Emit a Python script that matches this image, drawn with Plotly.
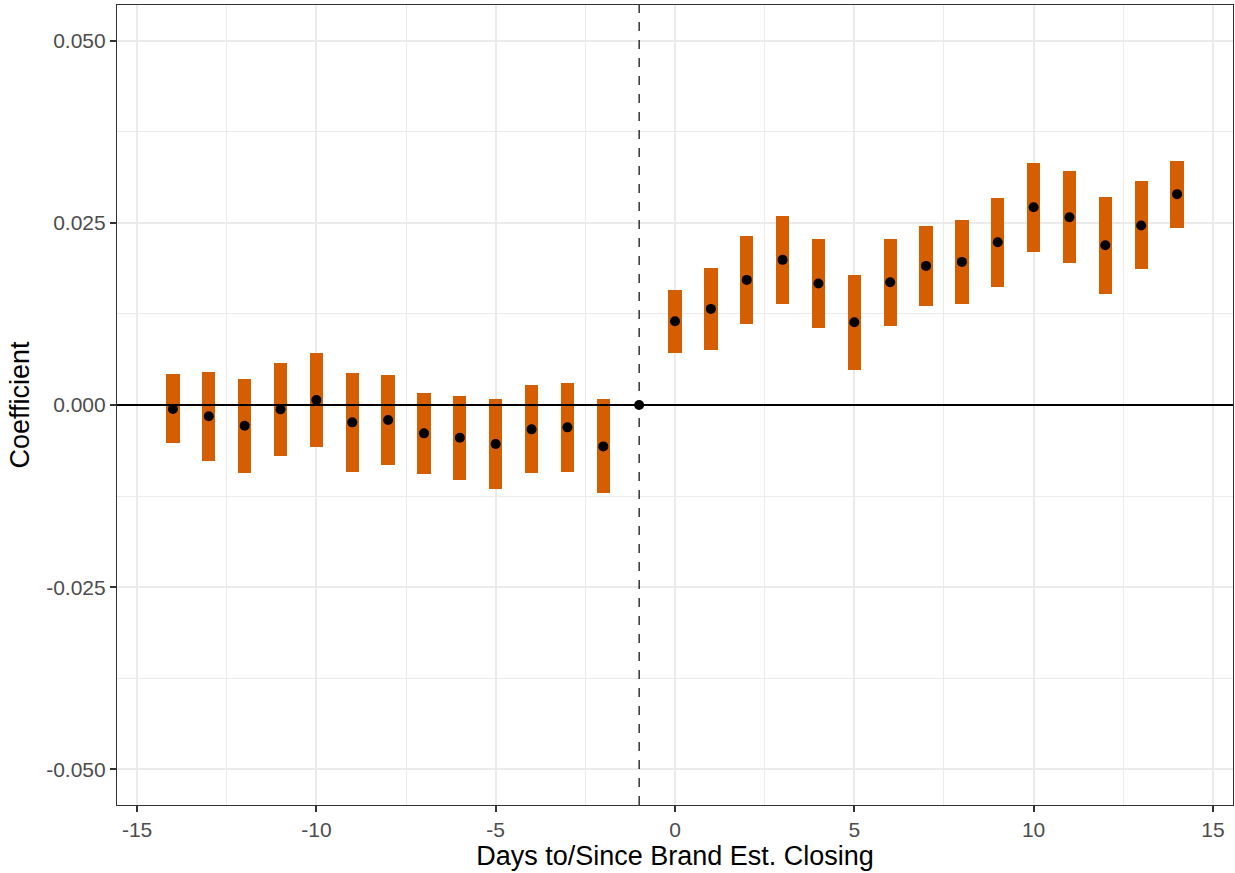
import plotly.graph_objects as go

days = [-14, -13, -12, -11, -10, -9, -8, -7, -6, -5, -4, -3, -2, -1,
        0, 1, 2, 3, 4, 5, 6, 7, 8, 9, 10, 11, 12, 13, 14]
coef = [-0.00055, -0.00155, -0.00284, -0.0006, 0.00069, -0.00238, -0.00206,
        -0.00389, -0.00449, -0.00536, -0.00334, -0.00307, -0.00568, 0.0,
        0.0115, 0.01319, 0.01717, 0.01992, 0.01667, 0.01136, 0.01685, 0.01909,
        0.01964, 0.02234, 0.02715, 0.02578, 0.02193, 0.02463, 0.02894]
ci_low = [-0.00526, -0.00765, -0.0093, -0.0070, -0.00577, -0.00916, -0.0082,
          -0.00948, -0.0103, -0.0115, -0.0094, -0.0092, -0.01213, 0.0,
          0.0071, 0.0075, 0.01117, 0.01392, 0.01053, 0.00476, 0.01085, 0.01356,
          0.01387, 0.01625, 0.02102, 0.0195, 0.01529, 0.01864, 0.02436]
ci_high = [0.00426, 0.00458, 0.00362, 0.00577, 0.0071, 0.0044, 0.00407,
           0.00169, 0.00128, 0.00078, 0.0027, 0.00307, 0.00078, 0.0,
           0.01584, 0.01882, 0.02317, 0.02592, 0.02285, 0.01786, 0.02276, 0.02463,
           0.02541, 0.02843, 0.03324, 0.03205, 0.02857, 0.03068, 0.03352]

x_ticks = [-15, -10, -5, 0, 5, 10, 15]
x_tick_labels = ["-15", "-10", "-5", "0", "5", "10", "15"]
y_ticks = [-0.05, -0.025, 0.0, 0.025, 0.05]
y_tick_labels = ["-0.050", "-0.025", "0.000", "0.025", "0.050"]

bar_x = [d for d, lo, hi in zip(days, ci_low, ci_high) if hi > lo]
bar_base = [lo for d, lo, hi in zip(days, ci_low, ci_high) if hi > lo]
bar_len = [hi - lo for d, lo, hi in zip(days, ci_low, ci_high) if hi > lo]

FONT = "Liberation Sans, Arial, sans-serif"

fig = go.Figure()
fig.add_trace(go.Bar(x=bar_x, y=bar_len, base=bar_base, width=0.37,
                     marker=dict(color="#D55E00", line=dict(width=0)),
                     showlegend=False, hoverinfo="skip"))
fig.add_hline(y=0, line=dict(color="black", width=2))
fig.add_vline(x=-1, line=dict(color="black", width=1.2, dash="dash"))
fig.add_trace(go.Scatter(x=days, y=coef, mode="markers",
                         marker=dict(color="black", size=10),
                         showlegend=False))

axis_common = dict(
    showline=True, linecolor="#333333", linewidth=1.2, mirror=True,
    ticks="outside", ticklen=6, tickcolor="#333333", tickwidth=1.5,
    gridcolor="#EBEBEB", gridwidth=1.6, zeroline=False,
    tickfont=dict(family=FONT, size=21, color="#4D4D4D"),
)

fig.update_layout(
    width=1235, height=873,
    margin=dict(l=117, r=2, t=5, b=68),
    plot_bgcolor="white", paper_bgcolor="white",
    font=dict(family=FONT, color="black"),
    xaxis=dict(range=[-15.56, 15.56], tickvals=x_ticks, ticktext=x_tick_labels,
               title=dict(text="Days to/Since Brand Est. Closing", font=dict(size=27), standoff=4),
               minor=dict(dtick=2.5, tick0=0, showgrid=True, gridcolor="#EBEBEB", gridwidth=0.8, ticks=""),
               **axis_common),
    yaxis=dict(range=[-0.0549, 0.0549], tickvals=y_ticks, ticktext=y_tick_labels,
               title=dict(text="Coefficient", font=dict(size=27), standoff=8),
               minor=dict(dtick=0.0125, tick0=0, showgrid=True, gridcolor="#EBEBEB", gridwidth=0.8, ticks=""),
               **axis_common),
    bargap=0,
)

fig.write_html("out.html", config={"displayModeBar": False},
               post_script="document.body.style.margin='0';")
